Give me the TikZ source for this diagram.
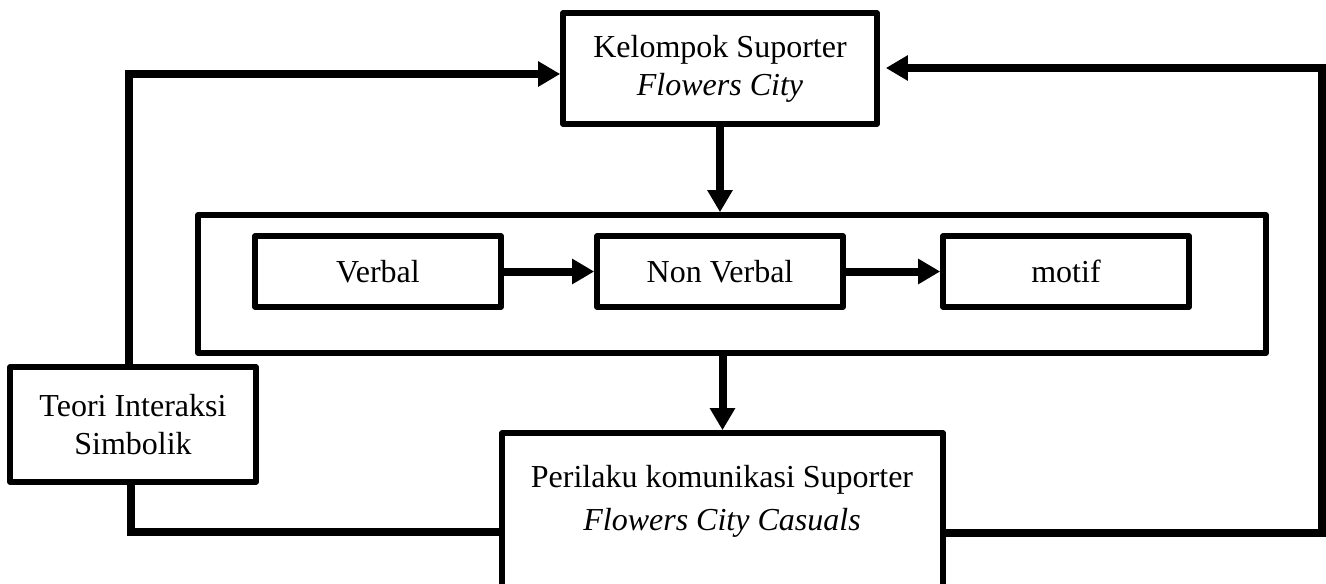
\documentclass[tikz,border=0pt]{standalone}
\usepackage{fontspec}
\setmainfont{Liberation Serif}
\usetikzlibrary{arrows.meta}

\begin{document}
\begin{tikzpicture}[x=0.5pt, y=-0.5pt, line join = round,
	kotak/.style={draw, line width=2.8pt, fill=white, align=center, inner sep=0pt,
		font=\fontsize{16}{19}\selectfont},
	garis/.style={line width=4pt, line join=miter},
	panah/.style={garis, -{Triangle[length=11pt,width=12pt]}}]
		\useasboundingbox (0,0) rectangle (1326,583);
		
		% kotak-kotak
		\node[kotak, minimum width=157pt, minimum height=55.5pt] (kelompok) at (720,68.5)
		{Kelompok Suporter\\ \textit{Flowers City}};
		\node[kotak, minimum width=534pt, minimum height=69pt] (wadah) at (732,284) {};
		\node[kotak, minimum width=123pt, minimum height=35.5pt] (verbal) at (378,271.5) {Verbal};
		\node[kotak, minimum width=123pt, minimum height=35.5pt] (nonverbal) at (720,271.5) {Non Verbal};
		\node[kotak, minimum width=123pt, minimum height=35.5pt] (motif) at (1066,271.5) {motif};
		\node[kotak, minimum width=123pt, minimum height=57.5pt] (teori) at (133,424.5)
		{Teori Interaksi\\ Simbolik};
		\node[kotak, minimum width=220.5pt, minimum height=85pt] (perilaku) at (722.5,518) {};
		\node[align=center, font=\fontsize{16}{21.5}\selectfont] (perilakuteks) at (722,501)
		{Perilaku komunikasi Suporter\\ \textit{Flowers City Casuals}};
		
		% panah
		\draw[panah] (kelompok.south) -- (kelompok.south |- wadah.north);
		\draw[panah] (verbal) -- (nonverbal);
		\draw[panah] (nonverbal) -- (motif);
		\draw[panah] (wadah.south -| perilaku.north) -- (perilaku.north);
		
		\coordinate (kiriatas) at (129,74);
		\coordinate (kiribawah) at (131,532);
		\draw[panah] (teori.north -| kiriatas) -- (kiriatas) -- (kiriatas -| kelompok.west);
		\draw[garis] (teori.south -| kiribawah) -- (kiribawah) -- (kiribawah -| perilaku.west);
		
		\coordinate (kananatas) at (1322,68);
		\coordinate (kananbawah) at (1322,533);
		\draw[panah, shorten >=3pt] (kananbawah -| perilaku.east) -- (kananbawah) -- (kananatas)
		-- (kananatas -| kelompok.east);
		
\end{tikzpicture}
\end{document}
